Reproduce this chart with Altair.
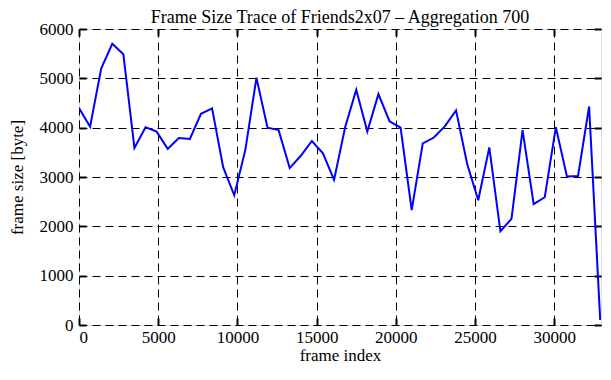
import altair as alt
import pandas as pd

frame_index = [i * 700 for i in range(48)]
frame_size = [4400, 4020, 5200, 5700, 5490, 3590, 4010, 3920, 3570, 3790,
              3770, 4280, 4390, 3200, 2630, 3550, 5010, 4000, 3950, 3180,
              3430, 3730, 3480, 2940, 4010, 4770, 3920, 4680, 4130, 4000,
              2330, 3680, 3800, 4030, 4350, 3270, 2530, 3600, 1900, 2150,
              3950, 2450, 2590, 4010, 3010, 3020, 4430, 100]

x_ticks = [0, 5000, 10000, 15000, 20000, 25000, 30000]
y_ticks = [0, 1000, 2000, 3000, 4000, 5000, 6000]

df = pd.DataFrame({"frame": frame_index, "size": frame_size})

FONT = "Liberation Serif"
xscale = alt.Scale(domain=[0, 32950], nice=False, zero=False)
yscale = alt.Scale(domain=[0, 6000], nice=False)

common = dict(format="d", labelFont=FONT, titleFont=FONT, labelColor="black",
              titleColor="black", titleFontWeight="normal",
              labelFontSize=17, titleFontSize=17)

main = alt.Chart(df).mark_line(color="#0000ff", strokeWidth=2, clip=True).encode(
    x=alt.X("frame:Q", scale=xscale,
            axis=alt.Axis(values=x_ticks, title="frame index", orient="bottom",
                          grid=True, gridColor="black", gridDash=[8, 5], gridWidth=1,
                          domain=False, ticks=False, labelPadding=4, titlePadding=2,
                          **common)),
    y=alt.Y("size:Q", scale=yscale,
            axis=alt.Axis(values=y_ticks, title="frame size [byte]", orient="left",
                          grid=True, gridColor="black", gridDash=[8, 5], gridWidth=1,
                          domain=False, ticks=False, labelPadding=6, titlePadding=13,
                          **common)),
)

tick_axis = dict(labels=False, title=None, grid=False, domain=False, ticks=True,
                 tickSize=7, tickWidth=2, tickColor="black", offset=-7)

mirror = alt.Chart(df).mark_line(opacity=0).encode(
    x=alt.X("frame:Q", scale=xscale,
            axis=alt.Axis(values=x_ticks, orient="top", **tick_axis)),
    y=alt.Y("size:Q", scale=yscale,
            axis=alt.Axis(values=y_ticks, orient="right", **tick_axis)),
)

inner = alt.Chart(df).mark_line(opacity=0).encode(
    x=alt.X("frame:Q", scale=xscale,
            axis=alt.Axis(values=x_ticks, orient="bottom", **tick_axis)),
    y=alt.Y("size:Q", scale=yscale,
            axis=alt.Axis(values=y_ticks, orient="left", **tick_axis)),
)

chart = alt.layer(main, mirror, inner).resolve_axis(x="independent", y="independent").properties(
    width=522,
    height=296,
    title=alt.TitleParams("Frame Size Trace of Friends2x07 – Aggregation 700",
                          font=FONT, fontSize=18, fontWeight="normal", color="black",
                          anchor="middle", offset=4, dy=11),
    autosize=alt.AutoSizeParams(type="none"),
    padding={"left": 71, "top": 21, "right": 2, "bottom": 38},
).configure_view(stroke="black", strokeWidth=2).configure(background="white")

chart.save("out.html", embed_options={"renderer": "svg", "actions": False})
